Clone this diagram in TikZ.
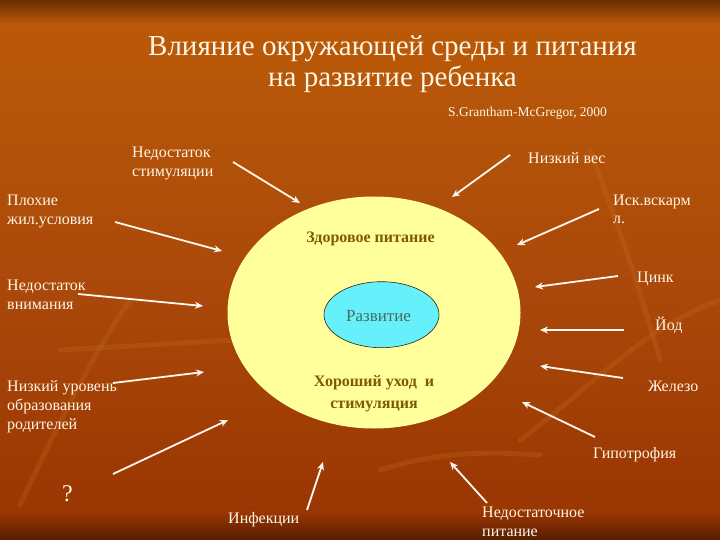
\documentclass[tikz,border=0pt]{standalone}
\usepackage{fontspec}
\setmainfont{Liberation Serif}
\usetikzlibrary{arrows.meta,shapes.geometric}
\definecolor{bgdark}{HTML}{6A2C00}
\definecolor{bgorange}{HTML}{BA5A08}
\definecolor{bgmid}{HTML}{A9480A}
\definecolor{bglow}{HTML}{9A3602}
\definecolor{bgbottom}{HTML}{561C00}
\definecolor{leaf}{HTML}{C8701E}
\definecolor{cream}{HTML}{FFF6E6}
\definecolor{arrowwhite}{HTML}{FFF8F0}
\definecolor{yellowfill}{HTML}{FFFF9C}
\definecolor{cyanfill}{HTML}{66F0FC}
\definecolor{olivetext}{HTML}{7E5A00}
\definecolor{devtext}{HTML}{4A6A58}
\begin{document}
\begin{tikzpicture}[x=1pt,y=-1pt,
  lbl/.style={text=cream, font=\fontsize{16}{19}\selectfont, inner sep=0pt, align=left, anchor=base west},
  ttl/.style={text=cream, font=\fontsize{29}{30.7}\selectfont, inner sep=0pt, align=center, anchor=base},
  arr/.style={draw=arrowwhite, line width=1.8pt, -{Stealth[length=8pt,width=7pt]}},
  intext/.style={text=olivetext, font=\fontsize{16}{22}\selectfont\bfseries, inner sep=0pt, align=center, anchor=base},
  leafline/.style={draw=leaf, opacity=0.25, line width=5pt, line cap=round}
]
\useasboundingbox (0,0) rectangle (720,540);
% background
\shade[top color=bgdark, bottom color=bgorange] (0,0) rectangle (720,24);
\shade[top color=bgorange, bottom color=bgmid] (0,24) rectangle (720,300);
\shade[top color=bgmid, bottom color=bglow] (0,300) rectangle (720,512);
\shade[top color=bglow, bottom color=bgbottom] (0,512) rectangle (720,540);
% faint leaf stems
\draw[leafline] (20,505) .. controls (60,420) and (90,360) .. (130,300);
\draw[leafline] (60,350) .. controls (150,345) and (230,340) .. (330,335);
\draw[leafline] (520,440) .. controls (600,380) and (640,330) .. (720,300);
\draw[leafline] (590,150) .. controls (620,230) and (640,290) .. (660,360);
\draw[leafline] (380,470) .. controls (430,455) and (470,450) .. (540,455);
% central ellipses
\node[ellipse, fill=yellowfill, draw=yellowfill, line width=1pt, minimum width=292pt, minimum height=231pt, inner sep=0pt] (outer) at (374,312.5) {};
\node[ellipse, fill=cyanfill, draw=black!60!olivetext, line width=0.6pt, minimum width=115pt, minimum height=66pt, inner sep=0pt] (dev) at (381.5,314.7) {};
\node[text=devtext, font=\fontsize{17}{20}\selectfont, inner sep=0pt, anchor=base] (devtxt) at (378.5,321.7) {Развитие};
\node[intext] (healthy) at (370.5,242.5) {Здоровое питание};
% multi-line nodes: base anchor = baseline of last line
\node[intext] (care) at (374,408.7) {Хороший уход\ \ и\\стимуляция};
% title
\node[ttl] (title) at (392.5,86.7) {Влияние окружающей среды и питания\\на развитие ребенка};
\node[text=cream, font=\fontsize{13.5}{16}\selectfont, inner sep=0pt, anchor=base west] (cite) at (448,116.7) {S.Grantham-McGregor, 2000};
% labels
\node[lbl] (stim) at (132,176.7) {Недостаток\\стимуляции};
\node[lbl] (house) at (7,225) {Плохие\\жил.условия};
\node[lbl] (attn) at (7,309) {Недостаток\\внимания};
\node[lbl] (educ) at (7,429.7) {Низкий уровень\\образования\\родителей};
\node[text=cream, font=\fontsize{24}{26}\selectfont, inner sep=0pt, anchor=base west] (q) at (62,501.7) {?};
\node[lbl] (inf) at (228,523.3) {Инфекции};
\node[lbl] (lowfood) at (482,536.7) {Недостаточное\\питание};
\node[lbl] (hypo) at (593,458.3) {Гипотрофия};
\node[lbl] (iron) at (648,391.7) {Железо};
\node[lbl] (iod) at (655,330) {Йод};
\node[lbl] (zinc) at (637,282.3) {Цинк};
\node[lbl, font=\fontsize{16}{17.5}\selectfont] (art) at (613,223.5) {Иск.вскарм\\л.};
\node[lbl] (lowwt) at (528,163.3) {Низкий вес};
% arrow end points
\coordinate (s1) at (233,162);  \coordinate (e1) at (300,203);
\coordinate (s2) at (115,222);  \coordinate (e2) at (222,251);
\coordinate (s3) at (78,294);   \coordinate (e3) at (203,306);
\coordinate (s4) at (113,383);  \coordinate (e4) at (204,372);
\coordinate (s5) at (113,474);  \coordinate (e5) at (228,420);
\coordinate (s6) at (307,510);  \coordinate (e6) at (323,462);
\coordinate (s7) at (487,503);  \coordinate (e7) at (450,462);
\coordinate (s8) at (595,437);  \coordinate (e8) at (522,402);
\coordinate (s9) at (623,378);  \coordinate (e9) at (540,366);
\coordinate (s10) at (624,330); \coordinate (e10) at (540,330);
\coordinate (s11) at (618,276); \coordinate (e11) at (535,287);
\coordinate (s12) at (599,209); \coordinate (e12) at (517,245);
\coordinate (s13) at (510,155); \coordinate (e13) at (452,197);
\foreach \i in {1,...,13} {\draw[arr] (s\i) -- (e\i);}
\end{tikzpicture}
\end{document}
